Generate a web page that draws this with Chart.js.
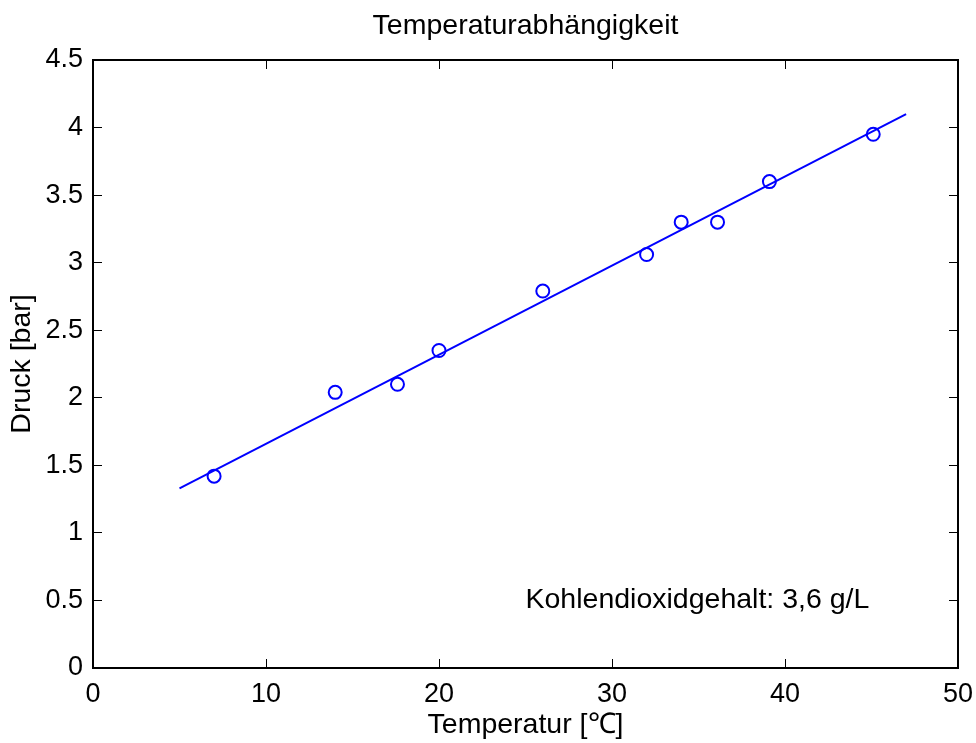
<!DOCTYPE html>
<html>
<head>
<meta charset="utf-8">
<script src="https://cdn.jsdelivr.net/npm/chart.js@4/dist/chart.umd.min.js"></script>
<style>
  html, body { margin: 0; padding: 0; background: #fff; }
  #wrap { width: 976px; height: 743px; }
</style>
</head>
<body>
<div id="wrap"><canvas id="c" width="976" height="743"></canvas></div>
<script>
// ---- data ----
const tempC = [7, 14, 17.6, 20, 26, 32, 34, 36.1, 39.1, 45.1];
const pressureBar = [1.42, 2.04, 2.10, 2.35, 2.79, 3.06, 3.30, 3.30, 3.60, 3.95];
const fitTemp = [5, 47];
const fitPressure = [1.33, 4.10];
const xTickLabels = ['0', '10', '20', '30', '40', '50'];
const yTickLabels = ['0', '0.5', '1', '1.5', '2', '2.5', '3', '3.5', '4', '4.5'];
const titleText = 'Temperaturabhängigkeit';
const xTitle = 'Temperatur [℃]';
const yTitle = 'Druck [bar]';
const noteText = 'Kohlendioxidgehalt: 3,6 g/L';
const noteAt = { x: 25, y: 0.5 };

const FONT = '"Liberation Sans", Arial, Helvetica, sans-serif';
const BLUE = '#0000ff';
const TEXT_SIZE = 28.5;
const TICK_SIZE = 27;

const measured = tempC.map((t, i) => ({ x: t, y: pressureBar[i] }));
const fitLine = fitTemp.map((t, i) => ({ x: t, y: fitPressure[i] }));

const notePlugin = {
  id: 'note',
  afterDatasetsDraw(chart) {
    const ctx = chart.ctx;
    const x = chart.scales.x.getPixelForValue(noteAt.x);
    const y = chart.scales.y.getPixelForValue(noteAt.y);
    ctx.save();
    ctx.font = TEXT_SIZE + 'px ' + FONT;
    ctx.fillStyle = '#000';
    ctx.textAlign = 'left';
    ctx.textBaseline = 'middle';
    ctx.fillText(noteText, x, y);
    ctx.restore();
  }
};

const tickGrid = {
  drawOnChartArea: false,
  drawTicks: true,
  tickLength: -9,
  color: '#000',
  lineWidth: 1
};
const border = { display: true, color: '#000', width: 2 };
const noPad = (s) => { s.paddingLeft = 0; s.paddingRight = 0; s.paddingTop = 0; s.paddingBottom = 0; };

new Chart(document.getElementById('c'), {
  type: 'scatter',
  data: {
    datasets: [
      {
        label: 'Messwerte',
        data: measured,
        showLine: false,
        pointStyle: 'circle',
        pointRadius: 6.5,
        pointHoverRadius: 6.5,
        pointBorderWidth: 2,
        pointBorderColor: BLUE,
        pointBackgroundColor: 'rgba(0,0,0,0)',
        order: 1
      },
      {
        label: 'Fit',
        data: fitLine,
        showLine: true,
        borderColor: BLUE,
        borderWidth: 2,
        pointRadius: 0,
        pointHoverRadius: 0,
        fill: false,
        order: 2
      }
    ]
  },
  options: {
    responsive: false,
    animation: false,
    events: [],
    layout: { padding: 0 },
    plugins: {
      legend: { display: false },
      title: { display: false },
      tooltip: { enabled: false }
    },
    scales: {
      x: {
        type: 'linear',
        position: 'bottom',
        min: 0, max: 50,
        ticks: {
          stepSize: 10,
          color: '#000',
          font: { family: FONT, size: TICK_SIZE },
          padding: 19,
          maxRotation: 0,
          callback: (v, i) => xTickLabels[i]
        },
        grid: tickGrid,
        border: border,
        title: {
          display: true,
          text: xTitle,
          color: '#000',
          font: { family: FONT, size: TEXT_SIZE },
          padding: { top: 0, bottom: 1 }
        },
        afterFit: (s) => { s.height = 75; noPad(s); }
      },
      x2: {
        type: 'linear',
        position: 'top',
        min: 0, max: 50,
        ticks: { stepSize: 10, display: false },
        grid: tickGrid,
        border: border,
        title: {
          display: true,
          text: titleText,
          color: '#000',
          font: { family: FONT, size: TEXT_SIZE },
          padding: { top: 9, bottom: 0 }
        },
        afterFit: (s) => { s.height = 60; noPad(s); }
      },
      y: {
        type: 'linear',
        position: 'left',
        min: 0, max: 4.5,
        ticks: {
          stepSize: 0.5,
          color: '#000',
          font: { family: FONT, size: TICK_SIZE },
          padding: 19,
          callback: (v, i) => yTickLabels[i]
        },
        grid: tickGrid,
        border: border,
        title: {
          display: true,
          text: yTitle,
          color: '#000',
          font: { family: FONT, size: TEXT_SIZE },
          padding: { top: 5, bottom: 0 }
        },
        afterFit: (s) => { s.width = 93; noPad(s); }
      },
      y2: {
        type: 'linear',
        position: 'right',
        min: 0, max: 4.5,
        ticks: { stepSize: 0.5, display: false },
        grid: tickGrid,
        border: border,
        afterFit: (s) => { s.width = 18; noPad(s); }
      }
    }
  },
  plugins: [notePlugin]
});
</script>
</body>
</html>
